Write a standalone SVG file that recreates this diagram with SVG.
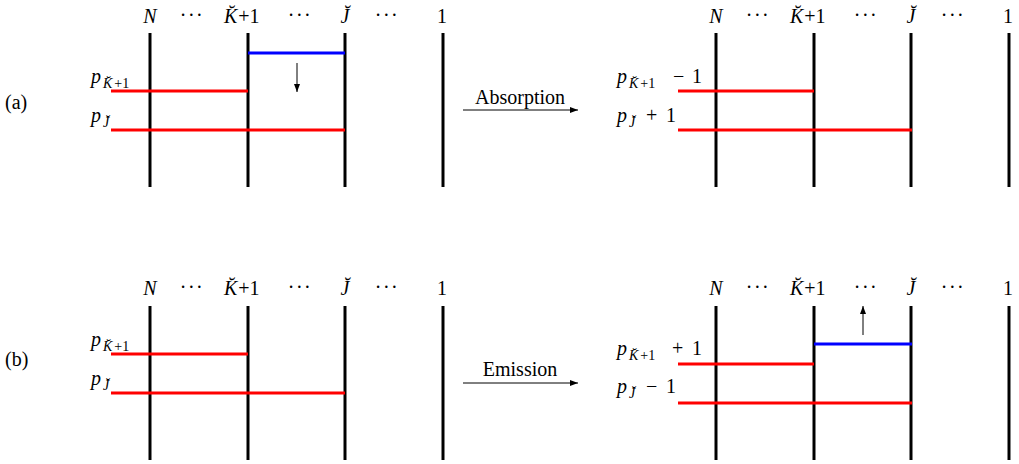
<svg xmlns="http://www.w3.org/2000/svg" width="1019" height="464" viewBox="0 0 1019 464">
<style>
text{font-family:'Liberation Serif','Times New Roman',serif;fill:#000;font-size:20px}
.v{stroke:#000;stroke-width:3}
.r{stroke:#ff0000;stroke-width:3}
.b{stroke:#0000ff;stroke-width:3}
.a{stroke:#000;stroke-width:1;fill:none;marker-end:url(#ah)}
.i{font-style:italic}
.s{font-size:14px}
.m{text-anchor:middle}
</style>
<defs>
<marker id="ah" markerUnits="userSpaceOnUse" markerWidth="9" markerHeight="7" refX="8" refY="3" orient="auto">
<path d="M0,0 L8,3 L0,6 z" fill="#000"/>
</marker>
<g id="hdr">
<text class="i m" x="150" y="23">N</text>
<text class="m" x="192" y="22" letter-spacing="1.5">···</text>
<text x="224" y="23"><tspan class="i">K̆</tspan><tspan dx="1">+1</tspan></text>
<text class="m" x="300" y="22" letter-spacing="1.5">···</text>
<text class="i m" x="345" y="23">J̆</text>
<text class="m" x="387" y="22" letter-spacing="1.5">···</text>
<text class="m" x="442" y="23">1</text>
</g>
<g id="vl">
<line class="v" x1="150" y1="0" x2="150" y2="154"/>
<line class="v" x1="248" y1="0" x2="248" y2="154"/>
<line class="v" x1="345" y1="0" x2="345" y2="154"/>
<line class="v" x1="443" y1="0" x2="443" y2="154"/>
</g>
</defs>
<rect width="1019" height="464" fill="#fff"/>
<g id="label-a"><text x="5" y="109">(a)</text></g>
<g id="label-b"><text x="5" y="366">(b)</text></g>

<g id="panel-a-before">
<use href="#hdr" x="0" y="0"/>
<use href="#vl" x="0" y="33"/>
<line class="b" x1="248" y1="53" x2="345" y2="53"/>
<line class="r" x1="111" y1="91" x2="248" y2="91"/>
<line class="r" x1="111" y1="130" x2="345" y2="130"/>
<text class="i" x="91" y="83">p</text><text class="s" x="103" y="88"><tspan class="i">K̆</tspan><tspan dx="2">+1</tspan></text>
<text class="i" x="91" y="122">p</text><text class="i s" x="103" y="127">J̆</text>
</g>

<g id="panel-a-after">
<use href="#hdr" x="566" y="0"/>
<use href="#vl" x="566" y="33"/>
<line class="r" x1="678" y1="91" x2="814" y2="91"/>
<line class="r" x1="678" y1="130" x2="912" y2="130"/>
<text class="i" x="617" y="83">p</text><text class="s" x="629" y="88"><tspan class="i">K̆</tspan><tspan dx="2">+1</tspan></text><text x="673" y="83">−<tspan x="692">1</tspan></text>
<text class="i" x="617" y="122">p</text><text class="i s" x="629" y="127">J̆</text><text x="646" y="122">+<tspan x="666">1</tspan></text>
</g>

<g id="panel-b-before">
<use href="#hdr" x="0" y="272"/>
<use href="#vl" x="0" y="306"/>
<line class="r" x1="111" y1="354" x2="248" y2="354"/>
<line class="r" x1="111" y1="393" x2="345" y2="393"/>
<text class="i" x="91" y="346">p</text><text class="s" x="103" y="351"><tspan class="i">K̆</tspan><tspan dx="2">+1</tspan></text>
<text class="i" x="91" y="385">p</text><text class="i s" x="103" y="390">J̆</text>
</g>

<g id="panel-b-after">
<use href="#hdr" x="566" y="272"/>
<use href="#vl" x="566" y="306"/>
<line class="b" x1="814" y1="344" x2="912" y2="344"/>
<line class="r" x1="678" y1="364" x2="814" y2="364"/>
<line class="r" x1="678" y1="403" x2="912" y2="403"/>
<text class="i" x="617" y="355">p</text><text class="s" x="629" y="360"><tspan class="i">K̆</tspan><tspan dx="2">+1</tspan></text><text x="672" y="355">+<tspan x="692">1</tspan></text>
<text class="i" x="617" y="393">p</text><text class="i s" x="629" y="398">J̆</text><text x="646" y="393">−<tspan x="666">1</tspan></text>
</g>

<g id="connectors">
<line class="a" x1="297" y1="63" x2="297" y2="92"/>
<line class="a" x1="863" y1="335" x2="863" y2="306"/>
<line class="a" x1="463" y1="110" x2="578" y2="110"/>
<line class="a" x1="463" y1="383" x2="578" y2="383"/>
<text class="m" x="520" y="104">Absorption</text>
<text class="m" x="520" y="376">Emission</text>
</g>
</svg>
